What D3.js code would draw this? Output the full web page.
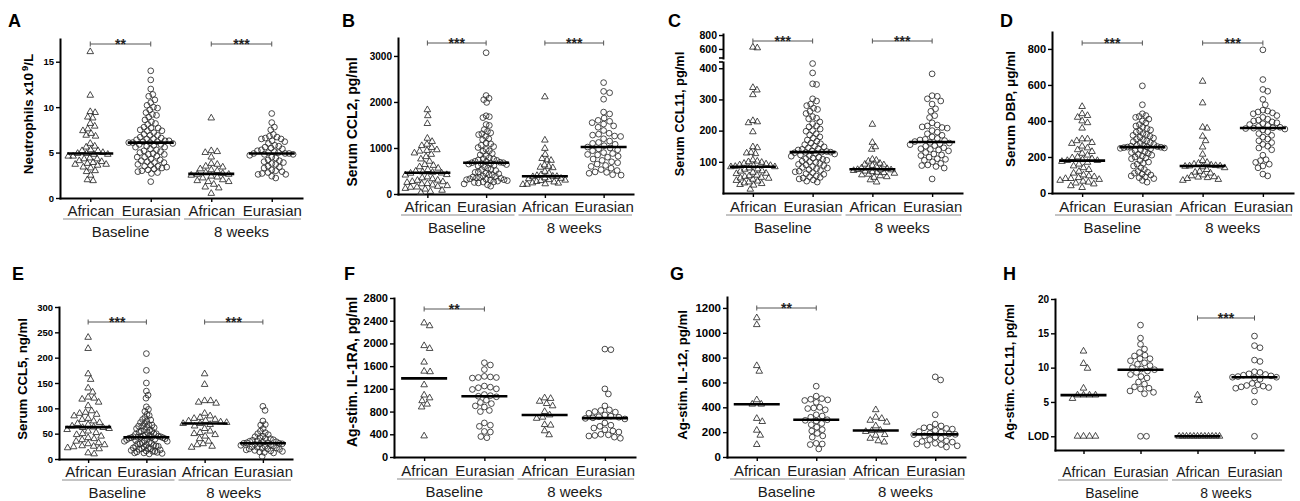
<!DOCTYPE html>
<html>
<head>
<meta charset="utf-8">
<script src="https://cdn.jsdelivr.net/npm/d3@7"></script>
<style>
  body { margin: 0; background: #fff; }
  svg { display: block; font-family: "Liberation Sans", Arial, Helvetica, sans-serif; }
</style>
</head>
<body>
<svg id="fig" width="1300" height="501"></svg>
<script>
// ---- labels ----
const categories = ['African', 'Eurasian', 'African', 'Eurasian'];
const timepoints = ['Baseline', '8 weeks'];
const yLabels = ['Neutrophils x10^9/L', 'Serum CCL2, pg/ml', 'Serum CCL11, pg/ml', 'Serum DBP, \u03bcg/ml',
  'Serum CCL5, ng/ml', 'Ag-stim. IL-1RA, pg/ml', 'Ag-stim. IL-12, pg/ml', 'Ag-stim. CCL11, pg/ml'];

// ---- tick values ----
const ticksA = [0, 5, 10, 15];
const ticksB = [0, 1000, 2000, 3000];
const ticksC = [100, 200, 300, 400];
const ticksCUpper = [600, 800];
const ticksD = [0, 200, 400, 600, 800];
const ticksE = [0, 50, 100, 150, 200, 250, 300];
const ticksF = [0, 400, 800, 1200, 1600, 2000, 2400, 2800];
const ticksG = [0, 200, 400, 600, 800, 1000, 1200];
const ticksH = [0, 5, 10, 15, 20];
const tickLabelsH = ['LOD', '5', '10', '15', '20'];

// ---- significance (baseline pair, 8 weeks pair) ----
const starsA = ['**', '***'];
const starsB = ['***', '***'];
const starsC = ['***', '***'];
const starsD = ['***', '***'];
const starsE = ['***', '***'];
const starsF = ['**', null];
const starsG = ['**', null];
const starsH = [null, '***'];

// ---- A: neutrophils x10^9/L ----
const neutAfr0 = [16.1, 11.3, 9.5, 9.4, 8.9, 8.8, 8.2, 7.9, 7.6, 7.4, 7.1, 6.9, 6.8, 6.0, 5.7, 5.6, 5.3, 5.2, 5.2, 5.0, 4.9, 4.9, 4.8, 4.8, 4.6, 4.6, 4.4, 4.3, 4.3, 4.1, 4.0, 3.9, 3.8, 3.7, 3.7, 3.6, 3.4, 3.3, 3.0, 2.9, 2.5, 2.0, 1.9];
const neutEur0 = [14.0, 13.0, 12.0, 11.4, 11.2, 10.8, 10.5, 10.2, 10.0, 9.9, 9.7, 9.4, 9.2, 9.1, 8.9, 8.6, 8.4, 8.2, 8.1, 7.8, 7.7, 7.7, 7.5, 7.4, 7.4, 7.2, 7.0, 6.9, 6.9, 6.7, 6.6, 6.5, 6.5, 6.4, 6.3, 6.3, 6.2, 6.2, 6.1, 6.1, 6.1, 6.0, 5.9, 5.9, 5.8, 5.7, 5.6, 5.6, 5.4, 5.3, 5.2, 5.1, 5.0, 4.9, 4.8, 4.8, 4.6, 4.5, 4.5, 4.3, 4.2, 4.1, 4.0, 3.9, 3.9, 3.7, 3.6, 3.5, 3.5, 3.4, 3.3, 3.2, 3.1, 3.0, 2.9, 2.8, 2.7, 1.8];
const neutAfr8 = [8.8, 5.2, 5.1, 5.0, 4.5, 3.8, 3.7, 3.5, 3.4, 3.2, 3.1, 3.0, 2.8, 2.7, 2.6, 2.6, 2.5, 2.4, 2.3, 2.2, 2.0, 1.9, 1.8, 1.8, 1.5, 1.2, 1.1, 0.5];
const neutEur8 = [9.3, 8.3, 7.8, 7.5, 7.0, 6.8, 6.7, 6.6, 6.5, 6.5, 6.3, 6.2, 6.0, 5.8, 5.7, 5.6, 5.5, 5.4, 5.3, 5.2, 5.1, 5.0, 5.0, 4.9, 4.9, 4.9, 4.8, 4.8, 4.7, 4.5, 4.4, 4.2, 4.1, 4.0, 3.9, 3.8, 3.7, 3.5, 3.4, 3.3, 3.1, 3.0, 2.9, 2.8, 2.7, 2.6, 2.6, 2.4, 2.2];

// ---- B: serum CCL2 ----
const ccl2Afr0 = [1830, 1700, 1530, 1210, 1140, 1080, 1050, 1010, 960, 945, 930, 890, 860, 810, 760, 710, 640, 620, 590, 560, 530, 495, 480, 470, 455, 450, 420, 410, 370, 350, 330, 300, 295, 270, 265, 250, 225, 220, 195, 180, 165, 150, 145, 120, 105, 80, 55, 30];
const ccl2Eur0 = [3070, 2140, 2080, 2050, 1990, 1700, 1680, 1660, 1510, 1490, 1400, 1360, 1330, 1310, 1290, 1250, 1200, 1180, 1110, 1090, 1060, 1030, 1010, 970, 940, 930, 880, 850, 830, 790, 770, 760, 740, 730, 710, 700, 690, 680, 680, 670, 660, 650, 640, 620, 610, 590, 560, 540, 530, 510, 480, 470, 450, 440, 420, 410, 390, 380, 370, 360, 350, 340, 330, 320, 310, 310, 300, 290, 280, 260, 260, 250, 240, 220, 200, 170];
const ccl2Afr8 = [2110, 1170, 990, 860, 770, 740, 730, 630, 600, 580, 570, 490, 450, 420, 400, 380, 385, 375, 350, 340, 330, 310, 300, 290, 270, 260, 240, 235, 220, 210, 205];
const ccl2Eur8 = [2420, 2230, 2200, 2060, 1780, 1740, 1650, 1600, 1580, 1550, 1520, 1480, 1450, 1380, 1320, 1300, 1280, 1260, 1250, 1200, 1150, 1120, 1100, 1080, 1050, 1020, 1000, 980, 960, 940, 900, 880, 860, 850, 820, 800, 760, 730, 700, 680, 650, 620, 600, 560, 530, 510, 480, 470, 450, 420, 410];

// ---- C: serum CCL11 ----
const ccl11Afr0 = [625, 615, 338, 330, 315, 232, 228, 225, 196, 148, 145, 130, 128, 126, 106, 102, 100, 98, 95, 93, 90, 88, 87, 85, 84, 84, 80, 77, 76, 71, 70, 66, 63, 62, 57, 55, 53, 50, 48, 47, 44, 40, 38, 35, 32, 30, 27, 25, 12];
const ccl11Eur0 = [415, 385, 350, 348, 302, 295, 285, 280, 272, 268, 262, 255, 245, 240, 238, 228, 222, 215, 212, 205, 200, 198, 190, 186, 180, 176, 170, 166, 160, 158, 155, 150, 148, 145, 142, 140, 138, 135, 133, 131, 131, 130, 129, 127, 125, 122, 120, 118, 115, 112, 110, 108, 105, 102, 100, 98, 95, 92, 90, 88, 85, 82, 80, 78, 75, 72, 70, 68, 65, 62, 60, 55, 52, 50, 48, 45, 42, 38, 35];
const ccl11Afr8 = [220, 162, 148, 140, 108, 105, 102, 95, 92, 90, 88, 85, 82, 80, 78, 76, 75, 74, 72, 70, 68, 66, 65, 63, 60, 58, 55, 52, 50, 42, 35];
const ccl11Eur8 = [382, 312, 310, 302, 295, 285, 270, 262, 248, 242, 225, 218, 215, 212, 210, 208, 200, 195, 190, 185, 180, 175, 172, 170, 168, 165, 162, 160, 158, 155, 152, 150, 145, 142, 140, 138, 135, 130, 125, 122, 120, 115, 110, 108, 105, 100, 95, 90, 88, 85, 80, 45];

// ---- D: serum DBP ----
const dbpAfr0 = [480, 440, 430, 420, 400, 390, 360, 300, 300, 290, 280, 275, 260, 250, 240, 230, 220, 210, 200, 195, 190, 185, 180, 180, 175, 170, 160, 150, 140, 130, 120, 110, 100, 95, 90, 85, 80, 80, 75, 70, 65, 60, 55, 50, 40, 30];
const dbpEur0 = [595, 490, 440, 430, 425, 420, 410, 400, 390, 380, 372, 365, 358, 350, 345, 338, 330, 325, 320, 315, 310, 305, 300, 296, 290, 285, 280, 276, 270, 265, 262, 260, 258, 256, 255, 254, 252, 250, 248, 245, 240, 236, 230, 225, 220, 215, 210, 205, 200, 195, 190, 180, 172, 165, 160, 150, 140, 130, 120, 115, 110, 105, 100, 95, 90, 85, 80, 70, 60];
const dbpAfr8 = [620, 500, 365, 360, 315, 290, 255, 215, 180, 170, 165, 160, 155, 152, 150, 150, 148, 145, 140, 130, 120, 115, 110, 100, 95, 90, 88, 85, 80, 75, 70];
const dbpEur8 = [795, 630, 575, 565, 520, 490, 460, 455, 450, 445, 440, 430, 420, 410, 405, 400, 395, 390, 385, 380, 375, 370, 365, 362, 360, 358, 355, 350, 340, 330, 320, 310, 300, 290, 280, 270, 260, 250, 240, 210, 185, 180, 170, 160, 150, 140, 105, 95];

// ---- E: serum CCL5 ----
const ccl5Afr0 = [240, 218, 168, 157, 140, 132, 122, 120, 118, 112, 105, 95, 92, 90, 88, 85, 80, 78, 75, 72, 70, 68, 65, 63, 62, 62, 60, 58, 55, 52, 50, 48, 45, 42, 40, 38, 35, 32, 30, 28, 26, 25, 24, 22, 20, 12, 10];
const ccl5Eur0 = [208, 175, 150, 134, 126, 120, 103, 98, 94, 88, 86, 82, 78, 77, 75, 72, 70, 68, 67, 65, 65, 63, 62, 60, 58, 57, 55, 55, 53, 52, 50, 50, 49, 47, 46, 45, 45, 44, 44, 43, 43, 43, 42, 42, 41, 40, 40, 39, 38, 37, 36, 35, 35, 33, 32, 31, 30, 30, 28, 27, 26, 25, 25, 24, 22, 21, 20, 20, 19, 18, 17, 16, 15, 15, 14, 13, 12, 12, 11, 10];
const ccl5Afr8 = [168, 147, 115, 115, 112, 110, 90, 85, 82, 80, 78, 76, 75, 73, 72, 70, 70, 68, 65, 60, 55, 52, 50, 48, 45, 40, 35, 30, 28, 25, 23];
const ccl5Eur8 = [104, 96, 75, 68, 67, 60, 55, 52, 50, 48, 45, 44, 42, 40, 40, 38, 37, 36, 35, 34, 33, 32, 32, 31, 31, 30, 30, 29, 28, 27, 26, 25, 24, 23, 22, 21, 20, 20, 19, 18, 17, 16, 15, 14, 13, 12, 5];

// ---- F: Ag-stim. IL-1RA ----
const il1raAfr0 = [2360, 2310, 1960, 1910, 1670, 1510, 1500, 1270, 1090, 1040, 990, 930, 880, 370];
const il1raEur0 = [1660, 1620, 1540, 1420, 1410, 1400, 1400, 1390, 1250, 1230, 1220, 1200, 1190, 1100, 1080, 1070, 1060, 1000, 960, 940, 900, 880, 820, 800, 600, 560, 540, 450, 440, 360, 340];
const il1raAfr8 = [1040, 1030, 980, 940, 900, 800, 740, 700, 680, 570, 560, 460, 390];
const il1raEur8 = [1900, 1890, 1200, 1110, 900, 830, 820, 800, 790, 770, 740, 720, 710, 700, 690, 680, 670, 600, 560, 540, 510, 480, 460, 440, 400, 390, 380, 370, 350, 330];

// ---- G: Ag-stim. IL-12 ----
const il12Afr0 = [1120, 1065, 735, 690, 460, 425, 425, 310, 285, 215, 175, 100];
const il12Eur0 = [570, 490, 470, 465, 460, 455, 440, 400, 395, 390, 380, 340, 330, 320, 300, 295, 290, 270, 260, 240, 220, 210, 190, 170, 160, 110, 105, 100, 65];
const il12Afr8 = [380, 320, 310, 295, 280, 250, 215, 212, 205, 180, 175, 150, 130, 120];
const il12Eur8 = [645, 620, 340, 265, 250, 240, 235, 230, 225, 215, 205, 200, 190, 185, 182, 180, 170, 160, 150, 140, 130, 125, 120, 110, 105, 100, 95, 90, 80];

// ---- H: Ag-stim. CCL11 (0 = LOD) ----
const agCcl11Afr0 = [12.4, 10.6, 9.9, 7.0, 6.0, 6.0, 6.0, 6.0, 5.5, 0, 0, 0, 0];
const agCcl11Eur0 = [16.2, 14.3, 13.4, 12.7, 12.2, 11.8, 11.7, 11.3, 11.3, 11.0, 10.7, 10.5, 10.3, 10.0, 9.8, 9.7, 9.5, 9.3, 9.0, 8.7, 8.5, 7.9, 7.6, 7.2, 7.0, 6.9, 6.6, 6.4, 6.2, 0, 0];
const agCcl11Afr8 = [6.0, 5.2, 0, 0, 0, 0, 0, 0, 0, 0, 0, 0, 0, 0];
const agCcl11Eur8 = [14.6, 13.2, 12.9, 11.1, 10.9, 9.4, 9.3, 9.1, 9.0, 8.9, 8.8, 8.7, 8.6, 8.6, 8.5, 8.3, 7.7, 7.5, 7.4, 7.3, 7.2, 7.1, 7.0, 6.6, 5.0, 0];

// layout of each panel (pixels)
const panels = [
  {letter: 'A', lx: 8, ly: 27, series: [neutAfr0, neutEur0, neutAfr8, neutEur8], ticks: ticksA, stars: starsA, label: yLabels[0],
   domain: [0, 17.5], x0: 60, x1: 302, top: 39, bottom: 198, catY: 216, labX: 28, labY: 114, labFs: 13.5, tickFs: 9.5, catFs: 15, sigY: 44},
  {letter: 'B', lx: 342, ly: 27, series: [ccl2Afr0, ccl2Eur0, ccl2Afr8, ccl2Eur8], ticks: ticksB, stars: starsB, label: yLabels[1],
   domain: [0, 3390], x0: 398, x1: 633, top: 38, bottom: 194, catY: 212, labX: 352, labY: 122, labFs: 14, tickFs: 10, catFs: 15, sigY: 43},
  {letter: 'C', lx: 668, ly: 27, series: [ccl11Afr0, ccl11Eur0, ccl11Afr8, ccl11Eur8], ticks: ticksC, stars: starsC, label: yLabels[2],
   domain: [0, 420], x0: 723, x1: 962, top: 62, bottom: 193, catY: 212, labX: 680, labY: 114, labFs: 12.8, tickFs: 10.5, catFs: 15, sigY: 41,
   upper: {domain: [470, 815], range: [58, 34], ticks: ticksCUpper}},
  {letter: 'D', lx: 1000, ly: 27, series: [dbpAfr0, dbpEur0, dbpAfr8, dbpEur8], ticks: ticksD, stars: starsD, label: yLabels[3],
   domain: [0, 894], x0: 1052, x1: 1293, top: 32, bottom: 193, catY: 212, labX: 1010, labY: 109, labFs: 13.5, tickFs: 11, catFs: 15, sigY: 43},
  {letter: 'E', lx: 12, ly: 280, series: [ccl5Afr0, ccl5Eur0, ccl5Afr8, ccl5Eur8], ticks: ticksE, stars: starsE, label: yLabels[4],
   domain: [0, 300], x0: 59, x1: 292, top: 307, bottom: 459, catY: 477, labX: 22, labY: 379, labFs: 13.2, tickFs: 9.5, catFs: 15, sigY: 322},
  {letter: 'F', lx: 344, ly: 280, series: [il1raAfr0, il1raEur0, il1raAfr8, il1raEur8], ticks: ticksF, stars: starsF, label: yLabels[5],
   domain: [0, 2800], x0: 394, x1: 635, top: 298, bottom: 457, catY: 476, labX: 352, labY: 372, labFs: 14, tickFs: 11, catFs: 15, sigY: 309},
  {letter: 'G', lx: 670, ly: 280, series: [il12Afr0, il12Eur0, il12Afr8, il12Eur8], ticks: ticksG, stars: starsG, label: yLabels[6],
   domain: [0, 1288], x0: 727, x1: 965, top: 297, bottom: 457, catY: 476, labX: 682, labY: 375, labFs: 13.2, tickFs: 11.5, catFs: 15, sigY: 308},
  {letter: 'H', lx: 1003, ly: 280, series: [agCcl11Afr0, agCcl11Eur0, agCcl11Afr8, agCcl11Eur8], ticks: ticksH, tickLabels: tickLabelsH, stars: starsH, label: yLabels[7],
   domain: [-2, 20], x0: 1055, x1: 1283, top: 299, bottom: 450, catY: 477, labX: 1010, labY: 372, labFs: 12.8, tickFs: 10, catFs: 14, sigY: 318}
];

const svg = d3.select('#fig');
const tri = d3.symbol().type(d3.symbolTriangle).size(19);
const circ = d3.symbol().type(d3.symbolCircle).size(26);
const plain = d3.format('d');

// simple beeswarm so the dots spread sideways like the scatter dot plot
function swarm(values, y, diam, maxHalf) {
  const nodes = values.map(v => ({v: v, y: y(v), x: 0}));
  const placed = [];
  nodes.slice().sort((a, b) => a.y - b.y).forEach(n => {
    for (let k = 0; k < 600; k++) {
      const off = (k % 2 ? 1 : -1) * Math.ceil(k / 2) * 0.5;
      const ok = placed.every(p => {
        const dy = p.y - n.y;
        return Math.abs(dy) >= diam || (p.x - off) * (p.x - off) + dy * dy >= diam * diam - 0.01;
      });
      if (ok) { n.x = off; break; }
    }
    placed.push(n);
  });
  const m = d3.max(nodes, n => Math.abs(n.x));
  if (m > maxHalf) nodes.forEach(n => { n.x *= maxHalf / m; });
  return nodes;
}

function styleAxis(sel, fs) {
  sel.attr('font-family', null).attr('font-size', null);
  sel.select('.domain').attr('stroke', '#000').attr('stroke-width', 2).attr('stroke-linecap', 'square');
  sel.selectAll('.tick line').attr('stroke', '#000').attr('stroke-width', 1.4);
  sel.selectAll('.tick text').attr('fill', '#000').attr('font-weight', 'bold').attr('font-size', fs);
}

panels.forEach(function(p) {
  const g = svg.append('g');
  const x = d3.scalePoint().domain(d3.range(4)).range([p.x0, p.x1]).padding(0.5);
  const lower = d3.scaleLinear().domain(p.domain).range([p.bottom, p.top]);
  let y = lower;

  // y axis
  const yAxis = d3.axisLeft(lower).tickValues(p.ticks).tickSize(4).tickSizeOuter(0).tickPadding(2)
    .tickFormat(p.tickLabels ? (d, i) => p.tickLabels[i] : plain);
  g.append('g').attr('transform', 'translate(' + p.x0 + ',0)').call(yAxis).call(styleAxis, p.tickFs);

  if (p.upper) {
    // broken axis: separate upper segment
    const upper = d3.scaleLinear().domain(p.upper.domain).range(p.upper.range);
    y = v => v > p.domain[1] ? upper(v) : lower(v);
    g.append('g').attr('transform', 'translate(' + p.x0 + ',0)')
      .call(d3.axisLeft(upper).tickValues(p.upper.ticks).tickSize(4).tickSizeOuter(0).tickPadding(2).tickFormat(plain))
      .call(styleAxis, p.tickFs);
    [p.upper.range[0], p.top].forEach(yy => {
      g.append('line').attr('x1', p.x0 - 4).attr('x2', p.x0).attr('y1', yy).attr('y2', yy)
        .attr('stroke', '#000').attr('stroke-width', 1.6);
    });
  }

  // x axis with category labels
  const xAxis = d3.axisBottom(x).tickSize(4).tickSizeOuter(0).tickFormat(i => categories[i]);
  const xg = g.append('g').attr('transform', 'translate(0,' + p.bottom + ')').call(xAxis).call(styleAxis, p.catFs);
  xg.selectAll('.tick text').attr('font-weight', 'normal').attr('fill', '#1a1a1a')
    .attr('y', p.catY - p.bottom).attr('dy', null);

  // group underline + timepoint label
  timepoints.forEach(function(t, j) {
    const a = x(2 * j), b = x(2 * j + 1), s = x.step();
    g.append('line').attr('x1', a - s / 2 + 3).attr('x2', b + s / 2 - 1)
      .attr('y1', p.catY + 3).attr('y2', p.catY + 3).attr('stroke', '#8a8a8a').attr('stroke-width', 1);
    g.append('text').attr('x', (a + b) / 2).attr('y', p.catY + 21).attr('text-anchor', 'middle')
      .attr('font-size', p.catFs).attr('fill', '#1a1a1a').text(t);

    const st = p.stars[j];
    if (st) {
      g.append('path')
        .attr('d', 'M' + a + ',' + (p.sigY - 2.5) + 'V' + (p.sigY + 2.5) + 'M' + a + ',' + p.sigY + 'H' + b +
          'M' + b + ',' + (p.sigY - 2.5) + 'V' + (p.sigY + 2.5))
        .attr('stroke', '#555').attr('stroke-width', 1).attr('fill', 'none');
      g.append('text').attr('x', (a + b) / 2).attr('y', p.sigY + 4.5).attr('text-anchor', 'middle')
        .attr('font-size', 14).attr('font-weight', 'bold').attr('fill', '#222').text(st);
    }
  });

  // dots
  p.series.forEach(function(vals, i) {
    const nodes = swarm(vals, y, 6, 22);
    g.append('g').selectAll('path').data(nodes).enter().append('path')
      .attr('d', i % 2 === 0 ? tri : circ)
      .attr('transform', d => 'translate(' + (x(i) + d.x) + ',' + d.y + ')')
      .attr('fill', 'none').attr('stroke', '#2a2a2a').attr('stroke-width', 0.85);
    const m = d3.median(vals);
    g.append('line').attr('x1', x(i) - 23).attr('x2', x(i) + 23).attr('y1', y(m)).attr('y2', y(m))
      .attr('stroke', '#000').attr('stroke-width', 2.6);
  });

  // y label
  const parts = p.label.split(/\^(\d)/);
  const lab = g.append('text').attr('transform', 'translate(' + p.labX + ',' + p.labY + ') rotate(-90)')
    .attr('text-anchor', 'middle').attr('dy', '0.35em').attr('font-weight', 'bold').attr('font-size', p.labFs).attr('fill', '#000');
  parts.forEach(function(s, k) {
    if (k % 2 === 1) lab.append('tspan').attr('dx', 2).attr('dy', -5).attr('font-size', p.labFs * 0.7).text(s);
    else if (k > 0) lab.append('tspan').attr('dy', 5).text(s);
    else lab.append('tspan').text(s);
  });

  // panel letter
  g.append('text').attr('x', p.lx).attr('y', p.ly).attr('font-size', 18).attr('font-weight', 'bold').text(p.letter);
});
</script>
</body>
</html>
